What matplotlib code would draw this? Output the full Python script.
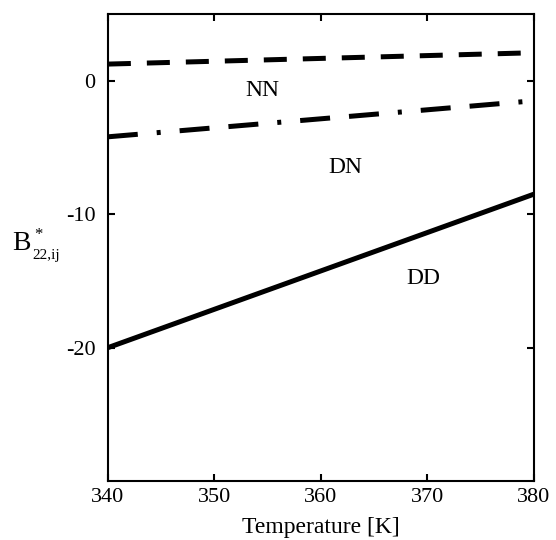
import numpy as np
import matplotlib.pyplot as plt

plt.rcParams['font.family'] = ['Liberation Serif', 'DejaVu Serif']
plt.rcParams['axes.unicode_minus'] = False

temp = [340, 380]
nn = [1.25, 2.1]
dn = [-4.2, -1.5]
dd = [-20.0, -8.5]

W, H = 556, 540
fig = plt.figure(figsize=(W / 100, H / 100), dpi=100)
ax = fig.add_axes([0.194, 0.109, 0.766, 0.865])

# line widths ~5px, dash lengths in units of lw
ax.plot(temp, nn, color='black', lw=3.6, dashes=(4.6, 3.2), dash_capstyle='butt')
ax.plot(temp, dn, color='black', lw=3.6, dashes=(6.0, 3.8, 0.8, 3.8, 6.0, 3.8), dash_capstyle='butt')
ax.plot(temp, dd, color='black', lw=3.6)

ax.text(354.5, -0.7, 'NN', fontsize=17, ha='center', va='center')
ax.text(362.3, -6.5, 'DN', fontsize=17, ha='center', va='center')
ax.text(369.6, -14.8, 'DD', fontsize=17, ha='center', va='center')

ax.set_xlim(340, 380)
ax.set_ylim(-30, 5)
ax.set_xticks([340, 350, 360, 370, 380])
ax.set_yticks([0, -10, -20])
ax.tick_params(direction='in', top=True, right=True, labelsize=16, length=5, width=1.5)
ax.tick_params(axis='y', pad=9)
ax.tick_params(axis='x', pad=5)
for s in ax.spines.values():
    s.set_linewidth(1.5)

ax.set_xlabel('Temperature [K]', fontsize=17, labelpad=7)

# y label B*_{22,ij} built from pieces (small sub/superscripts like the original)
fig.text(12 / W, 1 - 250 / H, 'B', fontsize=20, ha='left', va='baseline')
fig.text(34 / W, 1 - 227 / H, '*', fontsize=12, ha='left', va='top')
fig.text(32 / W, 1 - 259 / H, '22,ij', fontsize=11, ha='left', va='baseline')

fig.savefig('out.png', dpi=100)
